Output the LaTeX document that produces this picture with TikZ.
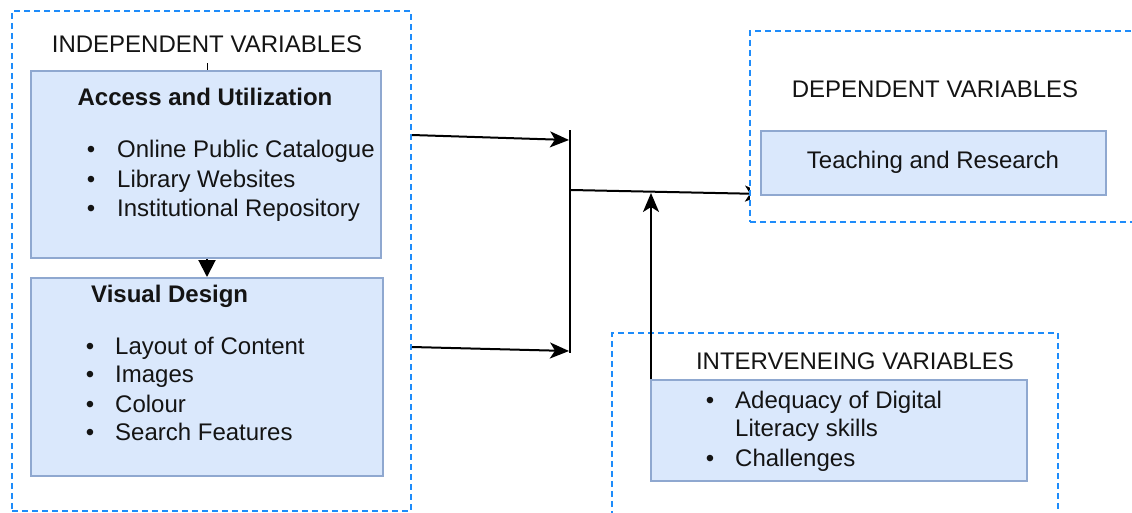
\documentclass[tikz,border=0pt]{standalone}
\usepackage{fontspec}
\setmainfont{Liberation Sans}
\usetikzlibrary{arrows.meta}
\pgfdeclarelayer{background}
\pgfsetlayers{background,main}
\definecolor{boxfill}{HTML}{DAE8FC}
\definecolor{boxline}{HTML}{8FA8D0}
\definecolor{dashblue}{HTML}{1E8CFA}
\definecolor{ink}{HTML}{141414}

\begin{document}
\begin{tikzpicture}[x=1pt,y=-1pt,
  container/.style={draw=dashblue, line width=1.8pt, dash pattern=on 6pt off 4pt,
    anchor=north west, inner sep=0pt},
  varbox/.style={draw=boxline, fill=boxfill, line width=1.8pt, anchor=north west, inner sep=0pt},
  txt/.style={font=\fontsize{24}{28}\selectfont, text=ink, inner sep=0pt, anchor=base},
  boldtxt/.style={txt, font=\bfseries\fontsize{24}{28}\selectfont},
  entry/.style={txt, anchor=base west},
  bul/.style={txt, anchor=base},
  link/.style={draw=black, line width=2pt, -{Stealth[length=19pt,width=16pt,inset=5pt]}},
  blocklink/.style={draw=black, line width=2pt, -{Triangle[length=17pt,width=17pt]}},
]
\useasboundingbox (0,0) rectangle (1132,512);

% ---- independent variables ----
\node[container, minimum width=399pt, minimum height=500pt] (indep) at (11,10) {};
\node[txt] (indeptitle) at (207,52) {INDEPENDENT VARIABLES};
\node[varbox, minimum width=350pt, minimum height=187pt] (access) at (30,70) {};
\node[boldtxt] (accesstitle) at (205,105) {Access and Utilization};
\node[bul] (b1) at (91,157) {\textbullet};
\node[entry] (i1) at (117,157) {Online Public Catalogue};
\node[bul] (b2) at (91,187) {\textbullet};
\node[entry] (i2) at (117,187) {Library Websites};
\node[bul] (b3) at (91,216) {\textbullet};
\node[entry] (i3) at (117,216) {Institutional Repository};

\node[varbox, minimum width=352pt, minimum height=198pt] (visual) at (30,277) {};
\node[boldtxt, anchor=base west] (visualtitle) at (91,302) {Visual Design};
\node[bul] (b4) at (90,354) {\textbullet};
\node[entry] (i4) at (115,354) {Layout of Content};
\node[bul] (b5) at (90,382) {\textbullet};
\node[entry] (i5) at (115,382) {Images};
\node[bul] (b6) at (90,412) {\textbullet};
\node[entry] (i6) at (115,412) {Colour};
\node[bul] (b7) at (90,440) {\textbullet};
\node[entry] (i7) at (115,440) {Search Features};

% ---- dependent variables ----
\node[container, fill=white, minimum width=400pt, minimum height=191pt] (dep) at (749,30) {};
\node[txt] (deptitle) at (935,97) {DEPENDENT VARIABLES};
\node[varbox, minimum width=345pt, minimum height=64pt] (teach) at (760,130) {};
\node[txt] (teachtext) at (933,168) {Teaching and Research};

% ---- intervening variables ----
\node[container, minimum width=446pt, minimum height=200pt] (interv) at (611,332) {};
\node[txt] (intervtitle) at (855,369) {INTERVENEING VARIABLES};
\node[varbox, minimum width=376pt, minimum height=101pt] (intbox) at (650,379) {};
\node[bul] (b8) at (710,408) {\textbullet};
\node[entry] (i8) at (735,408) {Adequacy of Digital};
\node[entry] (i8b) at (735,436) {Literacy skills};
\node[bul] (b9) at (710,466) {\textbullet};
\node[entry] (i9) at (735,466) {Challenges};

% ---- junction points ----
\coordinate (out1) at (412,135);
\coordinate (out2) at (412,347);
\coordinate (bartop) at (570,130);
\coordinate (barbot) at (570,353);
\coordinate (in1) at (569,140);
\coordinate (in2) at (569,351);
\coordinate (merge) at (571,190);
\coordinate (meet) at (651,193);
\coordinate (deptip) at (764,194);

% ---- connectors ----
\draw[line width=0.9pt] (indeptitle.south |- 0,63) -- (indeptitle.south |- access.north);
\draw[blocklink] (access.south -| 207,0) -- (visual.north -| 207,0);
\draw[link] (out1) -- (in1);
\draw[link] (out2) -- (in2);
\draw[line width=2pt] (bartop) -- (barbot);
\begin{pgfonlayer}{background}
\draw[link] (merge) -- (deptip);
\end{pgfonlayer}
\draw[link] (intbox.north -| meet) -- (meet);
\end{tikzpicture}
\end{document}
